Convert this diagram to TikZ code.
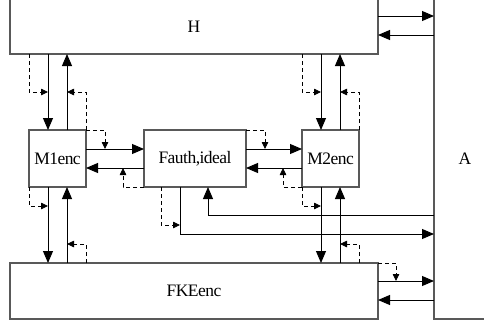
\documentclass[tikz,border=0pt]{standalone}
\usepackage{fontspec}
\setmainfont{Liberation Serif}[LetterSpace=-3]
\usetikzlibrary{arrows.meta,positioning,calc}

\begin{document}
\begin{tikzpicture}[
      x=1pt,y=-1pt,
      node distance=57pt,
      box/.style={draw=black!65,line width=1.1pt,inner sep=0pt,outer sep=0pt,font=\fontsize{17.5}{20}\selectfont},
      unit/.style={box,minimum width=57pt,minimum height=57pt},
      link/.style={line width=0.9pt,-{Triangle[length=12pt,width=10pt]}},
      ctrl/.style={line width=0.8pt,dash pattern=on 4pt off 3pt,-{Triangle[length=7pt,width=6.5pt]}}
    ]
    \useasboundingbox (0,0) rectangle (484,327);
    \node[box,minimum width=368pt,minimum height=55pt] (H) at (194,26.5) {H};
    \node[box,minimum width=368pt,minimum height=56pt] (FKE) at (194,291) {FKEenc};
    \node[box,minimum width=62pt,minimum height=320pt] (A) at (465,159) {A};
    \node[unit] (M1) at (57.5,158.5) {M1enc};
    \node[box,minimum width=102pt,minimum height=57pt,right=58pt of M1] (Fauth) {Fauth,ideal};
    \node[unit,right=56pt of Fauth] (M2) {M2enc};
    \foreach \m in {M1,M2}{
      \draw[link] ([xshift=-9.5pt]H.south -| \m.north) -- ([xshift=-9.5pt]\m.north);
      \draw[link] ([xshift=9.5pt]\m.north) -- ([xshift=9.5pt]H.south -| \m.north);
      \draw[ctrl] (H.south -| \m.west) -- ++(0,38) -- ++(19,0);
      \draw[ctrl] (\m.north east) -- ++(0,-38) -- ++(-19,0);
      \draw[link] ([xshift=-9.5pt]\m.south) -- ([xshift=-9.5pt]FKE.north -| \m.south);
      \draw[link] ([xshift=9.5pt]FKE.north -| \m.south) -- ([xshift=9.5pt]\m.south);
      \draw[ctrl] (\m.south west) -- ++(0,19) -- ++(19,0);
      \draw[ctrl] (FKE.north -| \m.east) -- ++(0,-19) -- ++(-19,0);
    }
    \draw[link] ([yshift=9.5pt]M1.east) -- ([yshift=9.5pt]M1.east -| Fauth.west);
    \draw[link] ([yshift=-9.5pt]Fauth.west) -- ([yshift=-9.5pt]Fauth.west -| M1.east);
    \draw[ctrl] (M1.north east) -- ++(19,0) -- ++(0,19);
    \draw[ctrl] (Fauth.south west) -- ++(-21,0) -- ++(0,-19);
    \draw[link] ([yshift=9.5pt]Fauth.east) -- ([yshift=9.5pt]Fauth.east -| M2.west);
    \draw[link] ([yshift=-9.5pt]M2.west) -- ([yshift=-9.5pt]M2.west -| Fauth.east);
    \draw[ctrl] (Fauth.north east) -- ++(19,0) -- ++(0,19);
    \draw[ctrl] (M2.south west) -- ++(-19,0) -- ++(0,-19);
    \draw[link] ([yshift=10.5pt]H.east) -- ([yshift=10.5pt]H.east -| A.west);
    \draw[link] ([yshift=-8.5pt]H.east -| A.west) -- ([yshift=-8.5pt]H.east);
    \draw[link] ([yshift=10pt]FKE.east) -- ([yshift=10pt]FKE.east -| A.west);
    \draw[link] ([yshift=-9pt]FKE.east -| A.west) -- ([yshift=-9pt]FKE.east);
    \draw[ctrl] (FKE.north east) -- ++(18,0) -- ++(0,18);
    \draw[link] ([yshift=-28pt]Fauth.south -| A.west) -| ([xshift=13pt]Fauth.south);
    \draw[link] ([xshift=-15pt]Fauth.south) |- ([yshift=-47pt]Fauth.south -| A.west);
    \draw[ctrl] ([xshift=-34pt]Fauth.south) -- ++(0,38) -- ++(19,0);
  \end{tikzpicture}
\end{document}
